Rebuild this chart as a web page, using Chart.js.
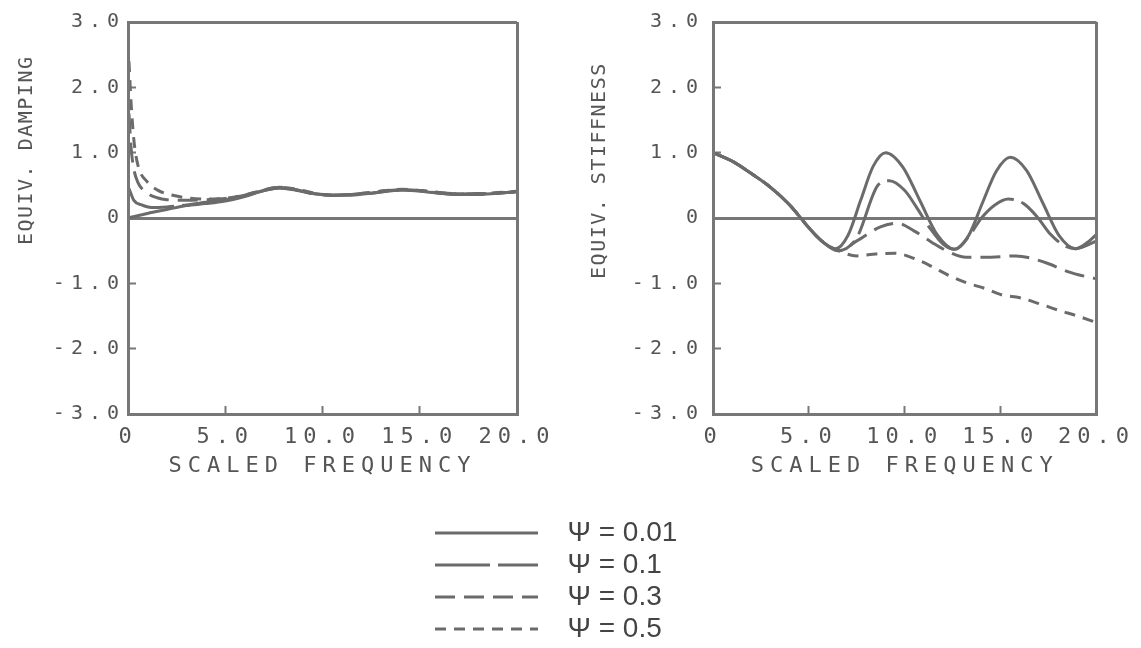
<!DOCTYPE html>
<html>
<head>
<meta charset="utf-8">
<script src="https://cdn.jsdelivr.net/npm/chart.js@4.4.1/dist/chart.umd.min.js"></script>
<style>
  body { margin: 0; background: #fff; width: 1141px; height: 648px; position: relative; overflow: hidden; }
  canvas { position: absolute; }
  #graficoAmort { left: 0; top: 0; }
  #graficoRigidez { left: 570px; top: 0; }
  #graficoLeyenda { left: 431px; top: 515px; }
</style>
</head>
<body>
<canvas id="graficoAmort" width="570" height="500"></canvas>
<canvas id="graficoRigidez" width="571" height="500"></canvas>
<canvas id="graficoLeyenda" width="260" height="280"></canvas>
<script>
// Datos
const etiquetasPsi = ["Ψ = 0.01", "Ψ = 0.1", "Ψ = 0.3", "Ψ = 0.5"];
const ticksY = [-3, -2, -1, 0, 1, 2, 3];
const ticksX = [0, 5, 10, 15, 20];

// Amortiguamiento equivalente
const frecAmort001 = [0, 1, 2, 3, 4, 5, 6, 7, 7.8, 8.7, 9.6, 10.5, 11.5, 12.5, 13.3, 14.1, 15, 16, 17, 18, 19, 20];
const amort001 = [0, 0.07, 0.13, 0.19, 0.22, 0.26, 0.33, 0.42, 0.46, 0.42, 0.37, 0.35, 0.35, 0.38, 0.41, 0.43, 0.41, 0.38, 0.36, 0.36, 0.38, 0.40];
const frecAmort01 = [0.05, 0.3, 0.7, 1.2, 2, 3, 4, 5, 6, 7, 7.8, 8.7, 9.6, 10.5, 11.5, 12.5, 13.3, 14.1, 15, 16, 17, 18, 19, 20];
const amort01 = [0.45, 0.27, 0.2, 0.16, 0.17, 0.2, 0.24, 0.28, 0.34, 0.42, 0.46, 0.43, 0.37, 0.35, 0.36, 0.38, 0.41, 0.43, 0.42, 0.38, 0.36, 0.37, 0.38, 0.40];
const frecAmort03 = [0.05, 0.15, 0.3, 0.5, 1, 1.5, 2, 3, 4, 5, 6, 7, 7.8, 8.7, 9.6, 10.5, 11.5, 12.5, 13.3, 14.1, 15, 16, 17, 18, 19, 20];
const amort03 = [1.6, 1.1, 0.75, 0.55, 0.38, 0.31, 0.28, 0.27, 0.28, 0.3, 0.35, 0.43, 0.47, 0.43, 0.37, 0.35, 0.36, 0.39, 0.42, 0.43, 0.42, 0.39, 0.37, 0.37, 0.38, 0.40];
const frecAmort05 = [0.05, 0.15, 0.3, 0.5, 1, 1.5, 2, 3, 4, 5, 6, 7, 7.8, 8.7, 9.6, 10.5, 11.5, 12.5, 13.3, 14.1, 15, 16, 17, 18, 19, 20];
const amort05 = [2.4, 1.8, 1.2, 0.82, 0.55, 0.43, 0.37, 0.31, 0.29, 0.3, 0.35, 0.43, 0.47, 0.44, 0.38, 0.35, 0.36, 0.39, 0.42, 0.44, 0.42, 0.39, 0.37, 0.37, 0.39, 0.41];

// Rigidez equivalente
const frecRig001 = [0, 1, 2, 3, 4, 5, 5.7, 6.4, 7.05, 7.7, 8.35, 9.0, 9.9, 10.8, 11.7, 12.6, 13.33, 14.05, 14.78, 15.5, 16.35, 17.2, 18.05, 18.9, 19.5, 20];
const rig001 = [1.0, 0.87, 0.68, 0.47, 0.2, -0.15, -0.36, -0.47, -0.26, 0.27, 0.79, 1.0, 0.78, 0.26, -0.26, -0.48, -0.27, 0.23, 0.72, 0.93, 0.73, 0.23, -0.27, -0.47, -0.38, -0.25];
const frecRig01 = [0, 1, 2, 3, 4, 5, 5.7, 6.5, 7.5, 8.6, 9.2, 10.0, 10.6, 11.3, 12.0, 12.6, 13.3, 14.0, 14.7, 15.4, 16.2, 16.9, 17.6, 18.3, 18.9, 19.5, 20];
const rig01 = [1.0, 0.87, 0.68, 0.47, 0.2, -0.15, -0.36, -0.5, -0.3, 0.5, 0.57, 0.42, 0.17, -0.15, -0.4, -0.48, -0.3, 0.0, 0.2, 0.29, 0.22, 0.02, -0.25, -0.42, -0.47, -0.42, -0.35];
const frecRig03 = [0, 1, 2, 3, 4, 5, 5.7, 6.6, 7.5, 8.7, 9.6, 10.5, 11.4, 12.3, 13.2, 14.5, 15.8, 16.5, 17.5, 18.5, 19.5, 20];
const rig03 = [1.0, 0.87, 0.68, 0.47, 0.2, -0.15, -0.36, -0.5, -0.35, -0.14, -0.08, -0.2, -0.37, -0.52, -0.6, -0.6, -0.58, -0.61, -0.7, -0.82, -0.9, -0.93];
const frecRig05 = [0, 1, 2, 3, 4, 5, 5.7, 6.4, 7.5, 8.5, 9.5, 10.5, 11.4, 12.3, 13.2, 14.2, 15.1, 16, 17, 18, 19, 20];
const rig05 = [1.0, 0.87, 0.68, 0.47, 0.2, -0.15, -0.36, -0.48, -0.58, -0.55, -0.54, -0.62, -0.74, -0.88, -0.99, -1.08, -1.18, -1.22, -1.31, -1.41, -1.5, -1.6];

const gris = "#6b6b6b";
const grisMarco = "#777";
const grisTexto = "#555";
const mono = "'DejaVu Sans Mono', monospace";
const trazos = [[], [55, 8], [20, 9], [11, 8]];

const puntos = (xs, ys) => xs.map((x, i) => ({ x: x, y: ys[i] }));

function series(pares) {
  return pares.map((p, i) => ({
    label: etiquetasPsi[i],
    data: puntos(p[0], p[1]),
    borderColor: gris,
    backgroundColor: gris,
    borderWidth: 3,
    borderDash: trazos[i],
    pointRadius: 0,
    fill: false,
    cubicInterpolationMode: "monotone"
  }));
}

// espaciado entre letras: títulos verticales apretados, números y título X más abiertos
const espaciado = {
  id: "espaciado",
  beforeDraw(chart) { chart.ctx.letterSpacing = "1.5px"; },
  afterDatasetsDraw(chart) { chart.ctx.letterSpacing = "6px"; }
};

function opciones(tituloY, anchoY, padDer, padTituloY, padTicksY) {
  const marco = { display: true, color: grisMarco, width: 3, z: 2 };
  return {
    responsive: false,
    animation: false,
    layout: { padding: { left: 0, top: 22, right: padDer, bottom: 0 } },
    plugins: { legend: { display: false }, tooltip: { enabled: false } },
    scales: {
      x: {
        type: "linear", position: "bottom", min: 0, max: 20,
        afterFit(s) { s.height = 86; },
        afterBuildTicks(s) { s.ticks = ticksX.map(v => ({ value: v })); },
        ticks: {
          autoSkip: false, maxRotation: 0, padding: 18, z: 1,
          font: { family: mono, size: 22 }, color: grisTexto,
          callback: v => v === 0 ? "0" : v.toFixed(1)
        },
        // la línea en 20 cierra el marco por la derecha
        grid: {
          color: c => c.tick && c.tick.value === 20 ? grisMarco : "transparent",
          lineWidth: 3, tickColor: grisMarco, tickLength: -8, tickWidth: 2, z: 1
        },
        border: marco,
        title: { display: true, text: "SCALED FREQUENCY", font: { family: mono, size: 22 }, color: grisTexto, padding: { top: 0, bottom: 21 } }
      },
      y: {
        min: -3, max: 3,
        afterFit(s) { s.width = anchoY; s.paddingTop = 0; s.paddingBottom = 0; },
        afterBuildTicks(s) { s.ticks = ticksY.map(v => ({ value: v })); },
        ticks: {
          autoSkip: false, padding: padTicksY, z: 1,
          font: { family: mono, size: 20 }, color: grisTexto,
          callback: v => v === 0 ? "0" : v.toFixed(1)
        },
        // línea del cero y borde superior del marco
        grid: {
          color: c => c.tick && (c.tick.value === 0 || c.tick.value === 3) ? grisMarco : "transparent",
          lineWidth: 3, tickColor: grisMarco, tickLength: -8, tickWidth: 2
        },
        border: marco,
        title: { display: true, text: tituloY, font: { family: mono, size: 20 }, color: grisTexto, padding: { top: padTituloY, bottom: 0 } }
      }
    }
  };
}

// Gráfico izquierdo: amortiguamiento
new Chart(document.getElementById("graficoAmort"), {
  type: "line",
  data: { datasets: series([[frecAmort001, amort001], [frecAmort01, amort01], [frecAmort03, amort03], [frecAmort05, amort05]]) },
  options: opciones("          EQUIV. DAMPING", 128, 53, 15, 11),
  plugins: [espaciado]
});

// Gráfico derecho: rigidez
new Chart(document.getElementById("graficoRigidez"), {
  type: "line",
  data: { datasets: series([[frecRig001, rig001], [frecRig01, rig01], [frecRig03, rig03], [frecRig05, rig05]]) },
  options: opciones("       EQUIV. STIFFNESS", 143, 42, 18, 17),
  plugins: [espaciado]
});

// Leyenda común
new Chart(document.getElementById("graficoLeyenda"), {
  type: "line",
  data: { datasets: series([[[], []], [[], []], [[], []], [[], []]]) },
  options: {
    responsive: false,
    animation: false,
    scales: { x: { display: false }, y: { display: false } },
    plugins: {
      tooltip: { enabled: false },
      legend: {
        position: "top", align: "start",
        labels: {
          usePointStyle: true, pointStyle: "line", pointStyleWidth: 103,
          padding: 4, color: "#444",
          font: { family: "'Liberation Sans', Arial, sans-serif", size: 28 },
          generateLabels(chart) {
            return chart.data.datasets.map((d, i) => ({
              text: "  " + d.label, strokeStyle: gris, fillStyle: gris, lineWidth: 3,
              lineDash: d.borderDash, pointStyle: "line", datasetIndex: i, fontColor: "#444"
            }));
          }
        }
      }
    }
  }
});
</script>
</body>
</html>
